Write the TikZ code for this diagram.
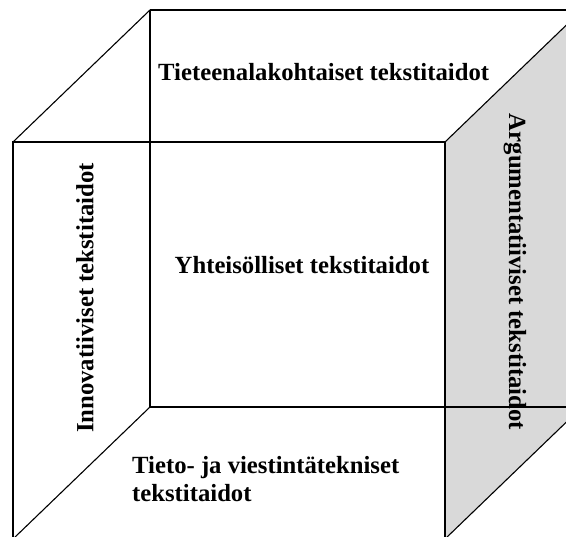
\documentclass[tikz,border=0pt]{standalone}
\usepackage{fontspec}
\setmainfont{Liberation Serif}
\usetikzlibrary{calc}
\tikzset{
  edge/.style={line width=1.1pt, black},
  sideface/.style={fill=gray!30},
  facelabel/.style={font=\fontsize{24.7}{28}\selectfont\bfseries, inner sep=0pt},
}
\begin{document}
\begin{tikzpicture}[x=1pt, y=-1pt]
  \useasboundingbox (0,0) rectangle (566,537);
  \clip (0,0) rectangle (566,537);
  % front face corners
  \coordinate (ftl) at (13,142);
  \coordinate (ftr) at (445,142);
  \coordinate (fbl) at (13,539);
  \coordinate (fbr) at (445,539);
  % back face = front face pushed back
  \coordinate (btl) at ($(ftl)+(137,-132)$);
  \coordinate (btr) at ($(ftr)+(137,-132)$);
  \coordinate (bbl) at ($(fbl)+(137,-132)$);
  \coordinate (bbr) at ($(fbr)+(137,-132)$);
  % shaded right face
  \fill[sideface] (ftr) -- (btr) -- (bbr) -- (fbr) -- cycle;
  \draw[edge] (ftr) -- (btr) -- (bbr) -- (fbr);
  % back edges
  \draw[edge] (btl) -- (btr);
  \draw[edge] (btl) -- (bbl) -- (bbr);
  % front face and depth edges
  \draw[edge] (ftl) rectangle (fbr);
  \draw[edge] (ftl) -- (btl);
  \draw[edge] (fbl) -- (bbl);
  % face labels
  \node[facelabel, anchor=west] (topface) at (158,72)
    {Tieteenalakohtaiset tekstitaidot};
  \node[facelabel] (backface) at (302,265)
    {Yhteisölliset tekstitaidot};
  \node[facelabel, rotate=90] (leftface) at (85,298)
    {Innovatiiviset tekstitaidot};
  \node[facelabel, rotate=-90] (rightface) at (515,272)
    {Argumentatiiviset tekstitaidot};
  \node[facelabel, anchor=west, align=left] (bottomface) at (132,479)
    {Tieto- ja viestintätekniset\\ tekstitaidot};
\end{tikzpicture}
\end{document}
